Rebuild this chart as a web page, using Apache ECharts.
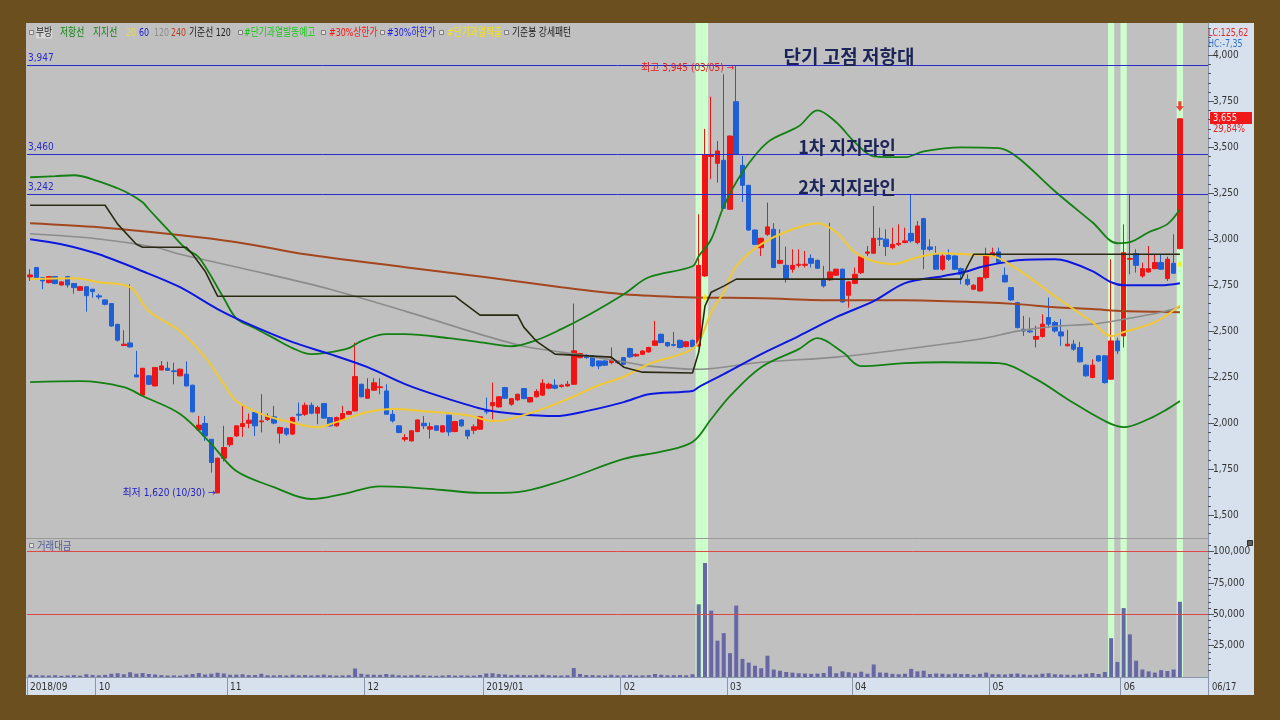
<!DOCTYPE html>
<html><head><meta charset="utf-8">
<script src="https://cdn.jsdelivr.net/npm/echarts/dist/echarts.min.js"></script>
<style>html,body{margin:0;padding:0;background:#6b4f1f}#c{width:1280px;height:720px}</style>
</head><body><div id="c"></div>
<script>
// ---------- trading days (categories) ----------
const dayLists = [
 ['2018','09',[11,12,13,14,17,18,19,20,21,27,28]],
 ['2018','10',[1,2,4,5,8,10,11,12,15,16,17,18,19,22,23,24,25,26,29,30,31]],
 ['2018','11',[1,2,5,6,7,8,9,12,13,14,15,16,19,20,21,22,23,26,27,28,29,30]],
 ['2018','12',[3,4,5,6,7,10,11,12,13,14,17,18,19,20,21,24,26,27,28]],
 ['2019','01',[2,3,4,7,8,9,10,11,14,15,16,17,18,21,22,23,24,25,28,29,30,31]],
 ['2019','02',[1,7,8,11,12,13,14,15,18,19,20,21,22,25,26,27,28]],
 ['2019','03',[4,5,6,7,8,11,12,13,14,15,18,19,20,21,22,25,26,27,28,29]],
 ['2019','04',[1,2,3,4,5,8,9,10,11,12,15,16,17,18,19,22,23,24,25,26,29,30]],
 ['2019','05',[2,3,7,8,9,10,13,14,15,16,17,20,21,22,23,24,27,28,29,30,31]],
 ['2019','06',[3,4,5,7,10,11,12,13,14,17]]
];
const monthTickLabels = ['2018/09','10','11','12','2019/01','02','03','04','05','06'];
const priceTicks = [1500,1750,2000,2250,2500,2750,3000,3250,3500,3750,4000];
const volTicks = [25000,50000,75000,100000];

// ---------- OHLC ----------
const opens = [
 2795,2846,2791,2764,2797,2751,2797,2759,2722,2742,
 2728,2692,2670,2650,2537,2422,2436,2262,2152,2257,
 2202,2289,2298,2284,2257,2266,2206,1963,1998,1912,
 1620,1809,1882,1930,1981,1999,2057,2007,2019,2034,
 1945,1970,1940,2048,2048,2097,2054,2106,2030,1985,
 2018,2048,2066,2211,2135,2179,2193,2175,2048,1985,
 1912,1903,1954,1999,1967,1985,1952,2043,1954,2017,
 1961,1961,1967,2066,2094,2088,2193,2103,2126,2188,
 2115,2143,2152,2190,2206,2199,2202,2211,2356,2369,
 2365,2338,2338,2329,2335,2356,2405,2365,2374,2387,
 2423,2483,2438,2427,2450,2416,2450,2420,2800,3450,
 3413,3429,3163,3748,3402,3293,3050,2954,3027,3054,
 2869,2858,2837,2858,2858,2896,2885,2782,2779,2804,
 2837,2695,2760,2818,2924,2924,3005,3000,2954,2972,
 2982,3032,2982,3112,2958,2918,2837,2913,2909,2840,
 2782,2728,2719,2791,2909,2931,2804,2737,2655,2510,
 2501,2456,2471,2574,2547,2496,2420,2429,2411,2315,
 2248,2366,2366,2239,2447,2474,2891,2922,2800,2822,
 2840,2873,2786,2869,2949];
const closes = [
 2806,2791,2773,2797,2759,2768,2751,2737,2742,2693,
 2715,2686,2646,2528,2451,2429,2414,2251,2298,2211,
 2302,2311,2287,2280,2293,2202,2061,1989,1930,1786,
 1809,1867,1921,1985,1998,2016,1985,2012,2037,2000,
 1976,1940,2030,2043,2097,2054,2085,2027,1985,2030,
 2052,2063,2253,2143,2184,2219,2197,2048,2012,1949,
 1921,1958,2017,1985,1980,1961,1985,1952,2008,1985,
 1930,1980,2034,2061,2112,2143,2135,2133,2157,2133,
 2139,2172,2217,2211,2190,2206,2211,2393,2378,2356,
 2311,2311,2315,2347,2329,2320,2360,2374,2392,2411,
 2447,2438,2420,2423,2411,2442,2416,2858,3458,3460,
 3480,3168,3561,3462,3293,3050,2972,3005,3067,2846,
 2885,2782,2858,2864,2864,2869,2842,2746,2822,2837,
 2659,2768,2809,2905,2931,3005,3000,2960,2972,2978,
 2991,2991,3072,2945,2945,2837,2909,2891,2837,2809,
 2755,2750,2791,2909,2927,2873,2768,2670,2519,2501,
 2496,2471,2538,2538,2501,2474,2429,2402,2333,2257,
 2315,2338,2220,2447,2393,2927,2895,2858,2840,2840,
 2873,2837,2891,2815,3655];
const lows = [
 2773,2788,2728,2760,2755,2748,2737,2704,2718,2606,
 2682,2673,2640,2524,2443,2420,2410,2250,2150,2208,
 2200,2287,2284,2211,2254,2200,2058,1960,1903,1731,
 1620,1791,1871,1925,1925,1972,1930,1949,2012,1994,
 1889,1931,1935,2012,2039,2048,1994,2023,1980,1980,
 2012,2045,2064,2140,2133,2175,2157,2046,2003,1945,
 1900,1900,1950,1967,1916,1958,1949,1930,1950,1980,
 1912,1940,1963,2048,2021,2085,2131,2094,2122,2130,
 2112,2139,2148,2184,2184,2193,2199,2208,2352,2350,
 2305,2293,2310,2320,2322,2315,2355,2360,2370,2383,
 2420,2434,2415,2416,2407,2412,2412,2416,2795,3326,
 3308,3165,3160,3458,3202,3045,2968,2909,3018,2843,
 2864,2764,2818,2846,2846,2846,2838,2737,2773,2800,
 2655,2628,2755,2810,2909,2920,2963,2909,2945,2963,
 2978,2982,2972,2837,2936,2833,2828,2882,2833,2755,
 2746,2724,2715,2782,2905,2869,2765,2665,2515,2474,
 2492,2411,2465,2519,2492,2420,2418,2393,2330,2252,
 2244,2333,2215,2235,2375,2411,2809,2818,2791,2818,
 2837,2833,2773,2813,2945];
const highs = [
 2837,2849,2794,2800,2800,2770,2800,2762,2745,2745,
 2730,2704,2673,2652,2540,2505,2755,2393,2300,2260,
 2305,2338,2334,2329,2296,2335,2209,2039,2039,1912,
 1812,1985,1923,1988,2094,2052,2060,2157,2052,2094,
 1980,1976,2035,2112,2112,2112,2094,2110,2033,2035,
 2094,2068,2438,2215,2244,2244,2244,2211,2081,1988,
 1940,1960,2020,2039,2003,1988,1988,2043,2012,2020,
 1961,1994,2037,2139,2220,2146,2197,2136,2160,2191,
 2142,2184,2239,2220,2239,2211,2229,2650,2382,2373,
 2368,2340,2342,2411,2340,2360,2410,2378,2396,2415,
 2556,2487,2442,2496,2454,2446,2454,3136,3600,3775,
 3534,3897,3565,3945,3453,3296,3053,3008,3199,3087,
 3054,2960,2945,2945,2936,2918,2890,2855,3090,2840,
 2840,2772,2846,2909,2963,3181,3063,3054,3063,3081,
 3063,3244,3099,3117,2999,2963,2918,2945,2913,2846,
 2809,2755,2795,2954,2954,2954,2846,2740,2660,2583,
 2574,2529,2592,2683,2556,2565,2507,2452,2442,2320,
 2347,2369,2369,2891,2465,3081,3244,2945,2873,2963,
 2918,2918,2905,3027,3658];
// 거래대금
const volumes = [
 1800,1500,1300,1200,1400,1000,1300,1500,1100,2200,
 1600,1400,1700,2600,3000,2200,3800,2600,3200,2400,
 2000,1500,1200,1300,1100,1800,2400,3200,2000,2600,
 3400,2800,1800,1900,2200,1500,1600,2600,1400,1300,
 1500,1200,1800,1400,1600,1300,1500,1900,1400,1200,
 1300,1500,6800,2600,2000,1800,1700,2400,1900,1400,
 1200,1500,1700,1300,1100,1000,1200,1500,1100,1300,
 1200,1100,1600,2800,3000,2300,2000,1500,1700,1600,
 1400,1700,1900,1500,1300,1200,1400,7200,2400,1600,
 1500,1300,1200,1800,1300,1400,1700,1200,1300,1500,
 2400,1800,1400,1500,1600,1400,2200,58000,91000,53000,
 29000,35000,19000,57000,14500,11500,9000,7000,17000,6000,
 5000,4000,3500,3000,2800,2500,2700,3200,8500,3000,
 4500,3800,3000,4200,2600,10000,3600,3400,2500,2200,
 2600,6500,4500,5000,2400,2800,2600,2200,2800,2300,
 2400,1800,2500,3500,2300,2200,2000,2500,2800,2100,
 1700,1900,2600,3000,2200,2000,1800,1700,2100,2600,
 3200,2400,4000,31000,12000,55000,34000,13000,6000,4500,
 3500,5500,4800,6000,60000];

// ---------- indicator lines: [dayIndex, value] ----------
const ma20 = [[0,2783],[7,2788],[11,2766],[16,2739],[19,2609],[24,2500],[28,2359],[31,2212],[33,2120],[37,2049],[41,2011],[46,1978],[49,2005],[54,2060],[58,2076],[63,2065],[70,2043],[74,2011],[76,2016],[81,2065],[86,2130],[91,2206],[95,2252],[99,2321],[105,2386],[107,2440],[109,2603],[111,2712],[113,2853],[117,2973],[122,3054],[126,3087],[129,3038],[132,2929],[135,2880],[138,2864],[142,2902],[146,2924],[150,2918],[154,2908],[158,2837],[164,2690],[170,2549],[173,2473],[175,2495],[180,2549],[184,2640]];
const ma60 = [[0,3000],[5,2973],[11,2918],[18,2826],[24,2739],[30,2620],[35,2538],[42,2440],[48,2375],[54,2304],[60,2212],[66,2141],[73,2071],[78,2049],[84,2038],[89,2065],[95,2114],[99,2157],[106,2174],[107,2196],[111,2266],[117,2375],[123,2473],[129,2576],[135,2663],[140,2761],[146,2799],[150,2826],[152,2848],[156,2875],[158,2886],[164,2891],[166,2880],[170,2826],[173,2766],[175,2750],[181,2750],[184,2761]];
const ma120 = [[0,3030],[10,3005],[20,2956],[24,2918],[36,2826],[48,2728],[60,2609],[73,2473],[79,2418],[85,2386],[95,2334],[99,2310],[107,2293],[117,2331],[129,2359],[140,2402],[152,2457],[158,2500],[164,2527],[170,2538],[175,2565],[181,2603],[184,2630]];
const ma240 = [[0,3087],[11,3065],[27,3011],[35,2973],[44,2918],[60,2848],[73,2793],[85,2739],[95,2701],[105,2685],[117,2679],[129,2668],[140,2668],[152,2657],[158,2647],[164,2630],[170,2620],[175,2609],[184,2603]];
const resistLine = [[0,3337],[4,3343],[7,3348],[11,3315],[14,3277],[16,3245],[18,3201],[19,3163],[22,3054],[25,2946],[27,2902],[31,2679],[33,2570],[36,2516],[39,2462],[42,2408],[45,2375],[47,2380],[51,2408],[53,2446],[57,2484],[60,2484],[67,2462],[73,2435],[77,2418],[81,2451],[85,2511],[89,2581],[95,2701],[99,2793],[106,2853],[107,2908],[109,3000],[111,3179],[114,3364],[118,3527],[123,3614],[126,3701],[129,3636],[132,3527],[135,3451],[140,3446],[143,3478],[149,3500],[155,3495],[158,3446],[164,3261],[170,3092],[174,2978],[176,2984],[179,3038],[182,3082],[184,3163]];
const supportLine = [[0,2223],[8,2228],[15,2196],[18,2147],[24,2049],[29,1886],[33,1739],[39,1652],[45,1587],[50,1614],[56,1656],[60,1652],[66,1636],[72,1620],[78,1625],[85,1685],[95,1805],[101,1845],[106,1897],[109,2022],[112,2147],[117,2304],[123,2402],[126,2462],[130,2386],[133,2310],[140,2326],[146,2331],[155,2326],[161,2239],[166,2130],[172,2011],[175,1978],[179,2022],[182,2076],[184,2120]];
const kijun = [[0,3185],[12,3185],[14,3082],[17,2973],[18,2956],[25,2956],[26,2918],[28,2826],[30,2690],[68,2690],[69,2663],[72,2587],[78,2587],[79,2522],[81,2446],[84,2375],[93,2359],[95,2304],[98,2277],[106,2272],[107,2386],[108,2636],[109,2712],[111,2745],[113,2783],[149,2783],[150,2853],[151,2918],[184,2918]];

const levels = [3947, 3460, 3242];
const volLevels = [100000, 50000];
const signalDates = ['2019/02/22','2019/02/25','2019/05/30','2019/06/03','2019/06/17'];
const overheatMarks = [[108,2710],[184,2891]];
const arrowMarks = [[184,3723]];
const highPoint = {date:'2019/03/05', value:3945, text:'최고 3,945 (03/05) →'};
const lowPoint = {date:'2018/10/30', value:1620, text:'최저 1,620 (10/30) →'};

// ---------- build ----------
const categories = [], monthStart = {};
dayLists.forEach((m, mi) => {
  m[2].forEach((d, di) => {
    if (di === 0) monthStart[categories.length] = monthTickLabels[mi];
    categories.push(m[0] + '/' + m[1] + '/' + String(d).padStart(2,'0'));
  });
});
const N = categories.length;
const cats = categories.concat([' ','  ','   ','    ']);
const fmt = v => Math.round(v).toLocaleString('en-US');
const candleData = categories.map((_, i) => [opens[i], closes[i], lows[i], highs[i]]);
const hl = cats.map(c => signalDates.includes(c) ? 1 : null);
const minorPrice = []; for (let v = 1400; v <= 4150; v += 50) minorPrice.push(v);
const minorVol = []; for (let v = 5000; v <= 105000; v += 5000) minorVol.push(v);

const NUM = "'DejaVu Sans Condensed','Liberation Sans Narrow','Noto Sans CJK KR',sans-serif";
const KR = "'Noto Sans CJK KR',sans-serif";

const lastC = closes[N-1], prevC = closes[N-2];
const pct = ((lastC/prevC - 1)*100).toFixed(2).replace('.', ',') + '%';

const legendItems = [
 ['부방',36,'#202020'],['저항선',60,'#108010'],['지지선',93,'#108010'],['20',126,'#e8d84a'],
 ['60',139,'#1414d8'],['120',154,'#8c8c8c'],['240',171,'#b0401c'],['기준선 120',189,'#202020'],
 ['#단기과열발동예고',244,'#18c818'],['#30%상한가',329,'#ff1010'],['#30%하한가',387,'#1a1af0'],
 ['#단기과열적출',447,'#f0e020'],['기준봉 강세패턴',512,'#202020']];
const boxXs = [29,238,321,380,439,504];

const graphics = [
  {type:'rect', z:-10, shape:{x:26,y:23,width:1182,height:654}, style:{fill:'#c0c0c0'}},
  {type:'rect', z:-10, shape:{x:1208,y:23,width:46,height:672}, style:{fill:'#d7e1ed'}},
  {type:'rect', z:-10, shape:{x:26,y:677,width:1182,height:18}, style:{fill:'#d7e1ed'}},
  {type:'line', z:50, shape:{x1:26,y1:538.5,x2:1208,y2:538.5}, style:{stroke:'#9a9a9a',lineWidth:1}},
  {type:'line', z:50, shape:{x1:26,y1:677.5,x2:1208,y2:677.5}, style:{stroke:'#8a96a8',lineWidth:1}},
  {type:'line', z:50, shape:{x1:1208.5,y1:677,x2:1208.5,y2:695}, style:{stroke:'#8a96a8',lineWidth:1}},
  {type:'text', z:100, x:1212, y:687, scaleX:0.85, style:{text:'06/17', fill:'#333', font:'11px '+NUM, verticalAlign:'middle'}},
  {type:'text', z:100, x:1208, y:33, scaleX:0.8, style:{text:'LC:125,62', fill:'#e02828', font:'11px '+NUM, verticalAlign:'middle'}},
  {type:'text', z:100, x:1208, y:44, scaleX:0.8, style:{text:'HC:-7,35', fill:'#3070c8', font:'11px '+NUM, verticalAlign:'middle'}},
  {type:'rect', z:100, shape:{x:1210,y:112,width:42,height:12}, style:{fill:'#f01818'}},
  {type:'text', z:101, x:1213, y:118, scaleX:0.85, style:{text:fmt(lastC), fill:'#ffe8e8', font:'11px '+NUM, verticalAlign:'middle'}},
  {type:'text', z:101, x:1213, y:129, scaleX:0.85, style:{text:pct, fill:'#e02020', font:'11px '+NUM, verticalAlign:'middle'}},
  {type:'text', z:100, x:849, y:57, style:{text:'단기 고점 저항대', fill:'#1b2557', font:'bold 19px '+KR, align:'center', verticalAlign:'middle'}},
  {type:'text', z:100, x:847, y:147, style:{text:'1차 지지라인', fill:'#1b2557', font:'bold 18px '+KR, align:'center', verticalAlign:'middle'}},
  {type:'text', z:100, x:847, y:187, style:{text:'2차 지지라인', fill:'#1b2557', font:'bold 18px '+KR, align:'center', verticalAlign:'middle'}},
  {type:'rect', z:100, shape:{x:29.5,y:543.5,width:4,height:4}, style:{fill:'#e0e0e0',stroke:'#7080a0',lineWidth:1}},
  {type:'text', z:100, x:37, y:546, scaleX:0.85, style:{text:'거래대금', fill:'#505a96', font:'11px '+KR, verticalAlign:'middle'}},
  {type:'rect', z:100, shape:{x:1247.5,y:540.5,width:5,height:5}, style:{fill:'#606060',stroke:'#303030',lineWidth:1}}
];
boxXs.forEach(x => graphics.push({type:'rect', z:100, shape:{x:x+0.5,y:30.5,width:4,height:4}, style:{fill:'#e0e0e0',stroke:'#808080',lineWidth:1}}));
legendItems.forEach(([t,x,c], i) => graphics.push({type:'text', z:100, x:x, y:33, scaleX:0.8,
  style:{text:t, fill:c, font:'11px '+NUM, verticalAlign:'middle', backgroundColor: i===0 ? '#d6d6d6' : null}}));

const lineSeries = (name, data, color, width, smooth) => ({
  name, type:'line', xAxisIndex:0, yAxisIndex:0, data, showSymbol:false, symbol:'none',
  smooth: smooth, connectNulls:true, z:4, silent:true,
  lineStyle:{color, width}
});

const option = {
  animation:false,
  backgroundColor:'#6b4f1f',
  graphic: graphics,
  grid:[
    {left:27, top:23, width:1181, height:515},
    {left:27, top:538, width:1181, height:139}
  ],
  xAxis:[
    {type:'category', gridIndex:0, data:cats, boundaryGap:true, axisLine:{show:false}, axisTick:{show:false}, axisLabel:{show:false}, splitLine:{show:false}},
    {type:'category', gridIndex:1, data:cats, boundaryGap:true,
      axisLine:{show:true, lineStyle:{color:'#8a96a8'}},
      axisTick:{show:true, length:18, interval:(i)=> monthStart[i]!==undefined, lineStyle:{color:'#8a96a8'}},
      axisLabel:{show:true, interval:(i)=> monthStart[i]!==undefined, formatter:(v,i)=> monthStart[i]||'', align:'left', margin:5, color:'#333', fontSize:10, fontFamily:NUM},
      splitLine:{show:false}},
    {type:'category', gridIndex:1, data:cats, boundaryGap:true, show:false}
  ],
  yAxis:[
    {type:'value', gridIndex:0, position:'right', min:1375, max:4176, splitLine:{show:false},
      axisLine:{show:true, lineStyle:{color:'#8a96a8'}},
      axisTick:{show:true, customValues:minorPrice, length:3, lineStyle:{color:'#555'}},
      axisLabel:{show:true, customValues:priceTicks, formatter:v=>fmt(v), color:'#333', fontSize:10, fontFamily:NUM, margin:5}},
    {type:'value', gridIndex:0, position:'right', min:1375, max:4176, splitLine:{show:false},
      axisLine:{show:false}, axisTick:{show:true, customValues:priceTicks, length:6, lineStyle:{color:'#555'}}, axisLabel:{show:false}},
    {type:'value', gridIndex:0, min:0, max:1, show:false},
    {type:'value', gridIndex:1, position:'right', min:0, max:110934, splitLine:{show:false},
      axisLine:{show:true, lineStyle:{color:'#8a96a8'}},
      axisTick:{show:true, customValues:minorVol, length:3, lineStyle:{color:'#555'}},
      axisLabel:{show:true, customValues:volTicks, formatter:v=>fmt(v), color:'#333', fontSize:10, fontFamily:NUM, margin:5}},
    {type:'value', gridIndex:1, position:'right', min:0, max:110934, splitLine:{show:false},
      axisLine:{show:false}, axisTick:{show:true, customValues:volTicks, length:6, lineStyle:{color:'#555'}}, axisLabel:{show:false}},
    {type:'value', gridIndex:1, min:0, max:1, show:false}
  ],
  series:[
    {type:'bar', xAxisIndex:0, yAxisIndex:2, data:hl, barWidth:'100%', silent:true, z:1, itemStyle:{color:'#ccffcc'}},
    {type:'bar', xAxisIndex:2, yAxisIndex:5, data:hl, barWidth:'100%', silent:true, z:1, itemStyle:{color:'#ccffcc'}},
    {type:'candlestick', xAxisIndex:0, yAxisIndex:0, data:candleData, barWidth:5, z:3, silent:true,
      itemStyle:{color:'#f01414', color0:'#1f5fd6', borderColor:'#f01414', borderColor0:'#1f5fd6', borderWidth:1},
      markLine:{silent:true, symbol:['none','none'], animation:false,
        lineStyle:{color:'#2a2ad0', width:1, type:'solid'},
        label:{show:true, position:'insideStartTop', formatter:p=>fmt(p.value), color:'#2a2ac8', fontSize:10, fontFamily:NUM, distance:[1,2]},
        data: levels.map(v=>({yAxis:v}))},
      markPoint:{silent:true, symbol:'circle', symbolSize:0, animation:false,
        data:[
          {coord:[categories.indexOf(highPoint.date), highPoint.value], label:{show:true, position:'left', distance:2, offset:[0,3], formatter:highPoint.text, color:'#e02020', fontSize:10, fontFamily:NUM}},
          {coord:[categories.indexOf(lowPoint.date), lowPoint.value], label:{show:true, position:'left', distance:2, formatter:lowPoint.text, color:'#2424c0', fontSize:10, fontFamily:NUM}}
        ]}
    },
    lineSeries('240', ma240, '#a4461e', 2, 0.3),
    lineSeries('120', ma120, '#8c8c8c', 1.6, 0.3),
    lineSeries('저항선', resistLine, '#128012', 1.8, 0.35),
    lineSeries('지지선', supportLine, '#128012', 1.8, 0.35),
    lineSeries('60', ma60, '#0c18e0', 2, 0.3),
    lineSeries('20', ma20, '#f2c832', 2, 0.35),
    lineSeries('기준선', kijun, '#2a2a12', 1.6, false),
    {type:'scatter', xAxisIndex:0, yAxisIndex:0, data:overheatMarks, symbol:'pin', symbolSize:[7,9], symbolRotate:180, z:6, silent:true, itemStyle:{color:'#ffee00'}},
    {type:'scatter', xAxisIndex:0, yAxisIndex:0, data:arrowMarks, symbol:'path://M3,0 L7,0 L7,5 L10,5 L5,10 L0,5 L3,5 Z', symbolSize:[8,10], z:6, silent:true, itemStyle:{color:'#f01414'}},
    {type:'bar', xAxisIndex:1, yAxisIndex:3, data:volumes, barWidth:4, z:3, silent:true, itemStyle:{color:'#6767a8'},
      markLine:{silent:true, symbol:['none','none'], animation:false, label:{show:false},
        lineStyle:{color:'#e04848', width:1, type:'solid'}, data: volLevels.map(v=>({yAxis:v}))}}
  ]
};
const chart = echarts.init(document.getElementById('c'), null, {renderer:'canvas', width:1280, height:720});
chart.setOption(option);
</script>
</body></html>
